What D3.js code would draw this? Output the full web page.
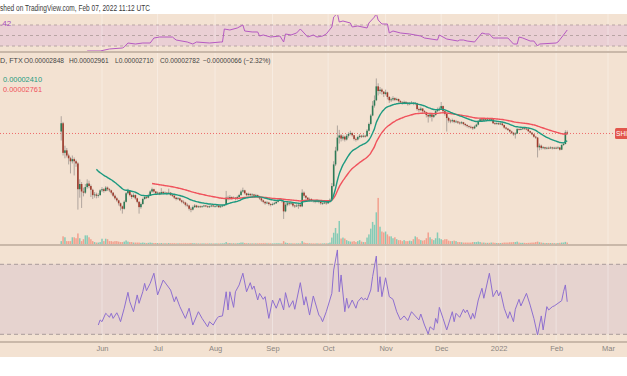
<!DOCTYPE html>
<html>
<head>
<meta charset="utf-8">
<title>SHIB/USD daily, FTX</title>
<script src="https://d3js.org/d3.v7.min.js"></script>
<style>
  body { margin: 0; background: #fff; }
  svg { display: block; font-family: "Liberation Sans", Arial, sans-serif; }
</style>
</head>
<body>
<svg id="chart" width="627" height="376"></svg>
<script>
// Daily candles from 10 May 2021, prices in millionths of a dollar (1 = 0.000001 USD)
const firstOpen = 29.0;
const closes = [
  34.5, 18.5, 19.5, 17.5, 16.5, 15.5, 16.2, 15.5, 14.8, 8.6,
  9.6, 8.2, 8.0, 9.0, 9.7, 9.2, 8.5, 7.6, 7.7, 7.5,
  7.6, 8.4, 8.6, 8.3, 8.9, 8.6, 8.4, 8.0, 7.5, 7.1,
  6.8, 6.4, 6.0, 5.7, 6.6, 7.9, 8.3, 7.6, 7.3, 7.6,
  7.1, 6.6, 5.9, 6.3, 7.0, 7.3, 7.2, 7.6, 8.2, 8.6,
  8.2, 7.9, 8.0, 7.8, 8.1, 7.9, 8.0, 7.8, 8.0, 7.6,
  7.5, 7.2, 7.0, 7.1, 6.8, 6.6, 6.5, 6.2, 6.1, 5.7,
  5.6, 5.9, 6.1, 5.9, 6.0, 5.9, 6.0, 6.1, 6.0, 5.9,
  6.0, 6.1, 6.0, 6.0, 6.1, 5.9, 6.0, 6.1, 6.2, 7.2,
  7.0, 7.3, 7.1, 7.2, 7.0, 7.3, 7.6, 8.2, 8.4, 7.9,
  7.6, 7.8, 7.6, 7.7, 7.5, 7.6, 7.4, 7.1, 6.8, 6.6,
  6.4, 6.5, 6.3, 6.2, 6.3, 6.4, 6.6, 6.8, 6.9, 6.7,
  5.4, 6.2, 6.4, 6.3, 6.4, 6.1, 6.0, 6.1, 6.2, 6.0,
  8.0, 7.5, 7.2, 6.9, 7.0, 6.8, 6.7, 6.6, 6.8, 6.6,
  6.4, 6.4, 6.5, 6.4, 6.6, 6.9, 9.2, 14.5, 19.4, 25.5,
  26.7, 25.0, 26.0, 24.5, 26.5, 27.5, 28.0, 26.8, 24.8, 24.5,
  25.8, 26.5, 26.0, 26.5, 26.2, 29.5, 34.0, 40.6, 50.0, 56.0,
  75, 68, 70, 67, 64, 66, 60, 56, 57, 58.5,
  56.5, 57.5, 55, 53.5, 52.5, 54, 53, 51.5, 52.5, 53,
  52, 52.5, 46.5, 45.5, 47, 44.5, 43.5, 41, 39.8, 41.5,
  39.5, 41, 44.5, 45.5, 47, 49.5, 44.5, 42, 38.5, 36.5,
  36, 36.8, 35.5, 35.8, 35, 34.5, 35.2, 34, 33.2, 32.5,
  32, 31.8, 31, 32.2, 33.5, 36.2, 37.5, 36.5, 37.5, 37.2,
  38, 37.3, 37.5, 34.5, 34, 34.5, 33.8, 34.3, 33.2, 31.5,
  30.8, 30, 29, 28.2, 27.3, 27.8, 30.5, 30.2, 30.5, 31,
  30.8, 30.4, 29.2, 28.3, 27.3, 26, 25.5, 20.8, 21.5, 20.5,
  20.8, 20.3, 20.6, 20.5, 20.7, 20.4, 20.6, 20.5, 20.7, 19.8,
  21.8, 22.3, 28.48, 27.82
];
const highs = [
  40, 35.5, 21.5, 20.5, 18.2, 17, 17.5, 16.8, 16, 15.2,
  10.6, 10, 8.9, 9.6, 10.6, 10.3, 9.5, 8.7, 8.1, 8.0,
  7.9, 8.6, 9.0, 8.8, 9.2, 9.1, 8.8, 8.5, 8.1, 7.7,
  7.3, 6.9, 6.5, 6.1, 6.8, 8.1, 8.7, 8.4, 7.8, 7.9,
  7.7, 7.2, 6.7, 6.5, 7.2, 7.6, 7.5, 7.8, 8.4, 8.9,
  8.7, 8.3, 8.2, 8.1, 8.8, 8.3, 8.2, 8.1, 8.7, 8.1,
  7.8, 7.6, 7.3, 7.3, 7.2, 6.9, 6.8, 6.6, 6.4, 6.2,
  5.9, 6.1, 6.3, 6.2, 6.1, 6.1, 6.1, 6.2, 6.2, 6.1,
  6.1, 6.2, 6.2, 6.1, 6.2, 6.2, 6.1, 6.2, 6.3, 8.3,
  7.5, 7.6, 7.4, 7.4, 7.3, 7.5, 7.8, 8.5, 8.9, 8.5,
  8.0, 8.0, 7.9, 7.9, 7.8, 7.8, 7.7, 7.5, 7.2, 6.9,
  6.7, 6.7, 6.6, 6.4, 6.5, 6.6, 6.8, 7.0, 7.1, 7.0,
  6.8, 6.4, 6.6, 6.5, 6.6, 6.5, 6.2, 6.3, 6.3, 6.3,
  8.6, 8.2, 7.6, 7.3, 7.2, 7.1, 6.9, 6.9, 7.0, 6.9,
  6.7, 6.6, 6.7, 6.6, 6.8, 7.1, 9.8, 15.5, 21, 32.9,
  30, 27.5, 27, 26.5, 27.5, 28.5, 29.5, 28.5, 27, 25.5,
  26.5, 27.5, 27, 27.3, 27, 30.5, 35, 42, 55, 62,
  88.6, 80, 74, 72, 68, 70, 67, 61, 59, 61,
  59.5, 59, 58, 56, 55, 55.5, 55, 54, 54, 55,
  54, 54, 53, 48, 49, 47.5, 45.5, 44, 42, 43,
  42, 42.5, 46, 48, 49, 54, 50, 45, 42.5, 39.5,
  37.5, 38, 37.2, 37, 36.3, 35.8, 36, 35.5, 34.5, 33.8,
  33, 32.8, 32.2, 33, 34.2, 37, 38.5, 38, 38.3, 38.2,
  38.8, 38.5, 38.2, 37.8, 35.2, 35.3, 35, 35, 34.6, 33.5,
  32, 31.2, 30.5, 29.5, 28.6, 28.5, 31.2, 31, 31.3, 31.8,
  31.6, 31.2, 30.7, 29.5, 28.6, 27.6, 26.4, 25.8, 22.5, 22,
  21.3, 21, 21, 21.1, 21.2, 21, 21, 21.1, 21.2, 20.9,
  22.2, 22.9, 29.8, 29.61
];
const lows = [
  24, 17.5, 16.5, 16.8, 14.5, 12, 14.8, 11.5, 13.8, 5.6,
  7.2, 5.8, 7.4, 7.8, 8.7, 8.8, 7.3, 7.0, 7.2, 7.1,
  7.2, 7.5, 8.1, 8.0, 8.2, 8.3, 8.1, 7.7, 7.3, 6.9,
  6.6, 6.1, 5.5, 5.15, 5.6, 6.5, 7.7, 7.4, 7.0, 7.2,
  6.9, 6.4, 5.15, 5.7, 6.2, 6.9, 7.0, 7.1, 7.5, 8.0,
  8.0, 7.7, 7.7, 7.6, 7.7, 7.7, 7.8, 7.6, 7.7, 7.5,
  7.3, 7.0, 6.8, 6.9, 6.7, 6.4, 6.3, 6.0, 5.9, 5.5,
  5.3, 5.5, 5.8, 5.8, 5.8, 5.8, 5.85, 5.9, 5.9, 5.8,
  5.8, 5.9, 5.9, 5.9, 5.9, 5.8, 5.8, 5.9, 6.0, 6.1,
  6.8, 6.9, 6.9, 7.0, 6.8, 6.9, 7.2, 7.5, 8.0, 7.7,
  7.4, 7.5, 7.4, 7.5, 7.3, 7.4, 7.2, 6.9, 6.6, 6.4,
  6.2, 6.3, 6.1, 6.0, 6.1, 6.2, 6.3, 6.5, 6.7, 6.5,
  4.6, 5.3, 6.0, 6.1, 6.2, 5.9, 5.8, 5.9, 5.7, 5.9,
  5.9, 7.2, 7.0, 6.7, 6.8, 6.6, 6.5, 6.4, 6.5, 6.4,
  6.2, 6.2, 6.3, 6.2, 6.3, 6.5, 6.8, 9.0, 14, 19,
  22.5, 23.5, 24, 23.5, 24, 25.5, 26.8, 26, 24, 23.5,
  24, 25, 25.3, 25.5, 25.5, 26, 29, 33, 40, 48,
  55, 62, 64, 63, 60, 62, 57, 53, 54, 55,
  55, 55.5, 53.5, 52, 51, 51.5, 51.5, 50, 50.5, 51.5,
  50.5, 50.5, 45, 43.5, 44.5, 43, 42, 39, 35, 38.5,
  35.8, 38.5, 40.5, 43.5, 44.5, 46, 43.5, 40.5, 29, 35,
  34.5, 35, 34.5, 34.8, 34, 33.5, 33.8, 33, 32.3, 31.5,
  31, 30.8, 30, 30.5, 31.8, 33, 35.8, 35.5, 36, 36.3,
  36.8, 36.5, 36.6, 34, 33.3, 33.5, 33.2, 33.3, 32.5, 30.8,
  30, 29.3, 28.3, 27.5, 26.5, 25, 27.5, 29.6, 29.8, 30,
  30.2, 29.8, 28.7, 27.8, 26.8, 25.5, 24.8, 16.8, 19.5, 19.8,
  20, 19.8, 19.9, 20, 20.1, 19.9, 20, 20, 20.1, 19.4,
  19.6, 21.5, 22.1, 27.10
];
// volume, trillions of SHIB
const volumes = [
  3, 8, 7, 3, 3, 3, 7, 7, 6, 11,
  6, 3, 5, 9, 9, 7, 5, 3, 2, 1.5,
  1.5, 2, 5.5, 3, 5.5, 5, 3, 3, 2.5, 3,
  3, 2.5, 2, 2, 2.5, 3.7, 2.5, 2, 2, 1.5,
  1.5, 1.5, 1.5, 1.2, 1.5, 1.2, 1, 1.2, 1.5, 1.2,
  1, 1, 1, 0.8, 1, 0.8, 0.8, 0.8, 1, 0.8,
  0.8, 0.8, 0.7, 0.7, 0.8, 0.7, 0.7, 0.8, 0.7, 0.8,
  1, 0.8, 0.7, 0.7, 0.6, 0.6, 0.6, 0.6, 0.6, 0.6,
  0.6, 0.6, 0.6, 0.6, 0.6, 0.6, 0.6, 0.7, 0.8, 2,
  1, 1, 0.8, 0.8, 0.7, 0.8, 1, 1.5, 1.5, 1,
  0.8, 0.8, 0.7, 0.7, 0.7, 0.7, 0.7, 0.8, 0.8, 0.8,
  0.8, 0.7, 0.7, 0.7, 0.6, 0.6, 0.7, 0.8, 0.7, 0.7,
  3, 1.5, 1, 0.8, 0.7, 0.7, 0.6, 0.6, 0.7, 0.7,
  3, 1.5, 1, 0.8, 0.7, 0.7, 0.6, 0.6, 0.7, 0.6,
  0.6, 0.6, 0.7, 0.7, 0.8, 1.5, 6.7, 11.7, 16.7, 11,
  24, 5.7, 6.7, 5.7, 4, 3, 2.5, 2.5, 3, 2,
  3, 4, 2.5, 2, 2, 6.7, 10, 16, 23, 20,
  33, 48, 18, 13, 12, 13, 10, 8, 8, 6,
  7, 5, 4, 4, 3, 4, 3, 3, 3.5, 3,
  5, 8, 7, 5, 4, 3.5, 4, 6, 12, 7,
  5, 4, 6, 12, 6, 5, 4, 5, 5, 3.5,
  3, 3, 3.5, 3, 2, 2, 1.8, 1.5, 1.5, 1.5,
  1.5, 1.5, 2, 2, 2, 2.5, 2, 1.5, 1.5, 1.2,
  1.2, 1.2, 1.5, 1.5, 1.2, 1, 1, 1, 1.2, 1.5,
  1.5, 1.5, 1.8, 1.8, 2, 2, 2.5, 1.5, 1.2, 1.2,
  1.2, 1, 1.2, 1.3, 1.5, 1.5, 2, 2.5, 1.8, 1.5,
  1.2, 1, 1, 1, 1, 1, 0.8, 0.8, 1, 1.2,
  1.5, 1.5, 2.2, 1.5
];

// lower pane oscillator (bar index, value)
const oscIdx = [
  20, 21, 22, 24, 25, 26, 27, 28, 30, 31, 32, 34, 36, 37, 39, 41, 42, 44, 45, 46,
  48, 50, 52, 55, 57, 59, 61, 62, 64, 67, 69, 71, 74, 76, 79, 80, 82, 84, 85, 87,
  89, 90, 91, 93, 94, 96, 98, 100, 102, 103, 104, 106, 107, 109, 110, 112, 114, 116, 118, 120,
  121, 123, 125, 126, 129, 131, 132, 134, 136, 139, 140,
  141, 143, 146, 147, 149, 150, 151, 153, 154, 155, 157, 159, 160, 162, 163, 164, 165, 167, 168, 170,
  171, 172, 173, 175, 177, 179, 181, 183, 185, 187, 189, 191, 193, 194, 196, 198, 199, 201, 202, 203,
  204, 206, 208, 209, 211, 212, 213, 215, 217, 218, 219, 221, 222, 223, 225, 227, 228, 231, 233, 235,
  236, 237, 239, 241, 242, 244, 245, 247, 248, 251, 253, 255, 257, 259, 260, 262, 263, 265, 266, 268,
  270, 271, 272, 273
];
const oscVal = [
  35.3, 38.2, 37.2, 42.0, 41.0, 39.7, 42.0, 39.1, 42.3, 40.1, 37.2, 44.9, 54.0, 48.6, 42.9, 52.5, 47.7, 54.3, 59.1, 54.9,
  59.1, 64.9, 52.5, 61.0, 58.2, 55.3, 48.6, 51.5, 45.8, 39.1, 44.9, 35.3, 42.9, 39.1, 34.3, 37.2, 35.3, 39.1, 40.1, 40.5,
  54.3, 43.9, 54.3, 45.4, 54.3, 58.2, 64.9, 54.3, 59.5, 55.7, 57.6, 49.6, 53.4, 50.0, 51.5, 39.1, 49.6, 44.9, 50.6, 43.9,
  53.8, 45.4, 49.2, 44.3, 59.5, 46.7, 51.5, 41.0, 51.9, 41.0, 39.7,
  37.2, 42.9, 53.4, 66.7, 78.2, 54.3, 63.9, 42.9, 50.6, 44.9, 49.6, 44.9, 48.6, 51.1, 49.6, 50.6, 49.6, 55.3, 62.9, 74.7,
  54.3, 62.9, 51.5, 62.3, 51.5, 50.0, 42.9, 38.2, 40.5, 37.8, 42.9, 40.5, 38.2, 41.6, 35.3, 30.2, 34.3, 32.5, 39.1, 36.3,
  45.4, 39.1, 32.5, 35.9, 42.9, 37.2, 42.0, 39.7, 44.3, 42.3, 43.9, 38.6, 42.0, 39.1, 49.6, 56.3, 50.6, 64.9, 51.5, 55.3,
  51.9, 54.3, 44.9, 39.1, 42.9, 37.2, 44.3, 50.0, 46.2, 53.4, 46.7, 39.1, 29.6, 40.5, 32.5, 45.8, 43.9, 45.8, 46.2, 47.7,
  49.2, 54.3, 58.2, 48.6
];

// cropped upper pane indicator (bar index, value)
const topIdx = [
  14, 21, 26, 33, 34, 36, 40, 44, 48, 50, 53, 60, 62, 68, 71, 73, 80, 86, 87, 88,
  91, 95, 98, 99, 103, 106, 107, 109, 113, 118, 120, 121, 124, 127, 129, 131, 133, 136, 138, 141,
  143, 146, 147, 149, 150, 152, 156, 157, 160, 165, 166, 169, 170, 171, 173, 176, 177, 179, 183, 188,
  191, 194, 196, 203, 204, 208, 214, 215, 217, 219, 223, 227, 229, 231, 233, 241, 244, 246, 247, 249,
  253, 255, 257, 258, 267, 268, 271, 273
];
const topVal = [
  20.5, 20.5, 24.3, 26.2, 28.1, 35.7, 33.8, 35.7, 35.7, 45.2, 47.1, 47.1, 41.4, 37.6, 33.8, 37.6, 35.7, 37.6, 37.6, 62.4,
  60.5, 64.3, 70.0, 58.6, 56.7, 56.7, 49.0, 51.0, 47.1, 49.0, 37.6, 52.9, 51.0, 54.8, 62.4, 54.8, 47.1, 51.0, 47.1, 49.0,
  52.9, 66.2, 85.2, 92, 75.7, 77.6, 73.8, 66.2, 68.1, 64.3, 73.8, 85.2, 92, 79.5, 71.9, 71.9, 54.8, 58.6, 54.8, 52.9,
  51.0, 49.0, 45.2, 41.4, 51.0, 43.3, 39.5, 41.4, 41.4, 39.5, 37.6, 54.8, 52.9, 52.9, 45.2, 45.2, 33.8, 33.8, 47.1, 45.2,
  39.5, 39.5, 30.0, 33.8, 35.7, 37.6, 51.0, 60.5
];

const monthNames = ["Jun", "Jul", "Aug", "Sep", "Oct", "Nov", "Dec", "2022", "Feb", "Mar"];

// ---------------------------------------------------------------
const startDay = Date.UTC(2021, 4, 10);
const day = i => new Date(startDay + i * 864e5);
const candles = closes.map((c, i) => ({
  date: day(i),
  open: i === 0 ? firstOpen : closes[i - 1],
  high: highs[i], low: lows[i], close: c, vol: volumes[i]
}));

// EMA the way TradingView seeds it (SMA of the first len bars)
function ema(values, len) {
  const k = 2 / (len + 1), out = [];
  let prev = null;
  values.forEach((v, i) => {
    if (i < len - 1) { out.push(null); return; }
    if (prev === null) prev = d3.mean(values.slice(0, len));
    else prev = v * k + prev * (1 - k);
    out.push(prev);
  });
  return out;
}
const ema20 = ema(closes, 20);
const ema50 = ema(closes, 50);

const svg = d3.select("#chart");
const bg = "#f3e2d2";

const x = d3.scaleUtc()
  .domain([new Date(Date.UTC(2021, 5, 1)), new Date(Date.UTC(2022, 2, 1))])
  .range([102, 608]);
const y = d3.scaleLog().domain([5, 100]).range([215, 72.7]);
const yVol = d3.scaleLinear().domain([0, 50]).range([244, 196]);
const yOsc = d3.scaleLinear().domain([30, 70]).range([334.3, 264.3]);
const yTop = d3.scaleLinear().domain([30, 70]).range([46, 25]);

// backgrounds
svg.append("rect").attr("x", 0).attr("y", 14).attr("width", 627).attr("height", 343).attr("fill", bg);
svg.append("rect").attr("x", 0).attr("y", yTop(70)).attr("width", 627)
  .attr("height", yTop(30) - yTop(70)).attr("fill", "#eacfd4");
svg.append("rect").attr("x", 0).attr("y", yOsc(70)).attr("width", 627)
  .attr("height", yOsc(30) - yOsc(70)).attr("fill", "#e6d3cf");

// month grid
const months = x.ticks(d3.utcMonth.every(1));
svg.append("g").selectAll("line").data(months).join("line")
  .attr("x1", d => x(d)).attr("x2", d => x(d))
  .attr("y1", 14).attr("y2", 342)
  .attr("stroke", "#fff").attr("stroke-opacity", 0.35);

// dashed level lines
svg.append("g").selectAll("line").data([30, 50, 70]).join("line")
  .attr("x1", 0).attr("x2", 627)
  .attr("y1", d => yTop(d)).attr("y2", d => yTop(d))
  .attr("stroke", "#b8a4a4").attr("stroke-dasharray", "3,3");
svg.append("g").selectAll("line").data([30, 70]).join("line")
  .attr("x1", 0).attr("x2", 627)
  .attr("y1", d => yOsc(d)).attr("y2", d => yOsc(d))
  .attr("stroke", "#a99c9a").attr("stroke-dasharray", "4,3");

// clip regions
const defs = svg.append("defs");
defs.append("clipPath").attr("id", "clipTop").append("rect")
  .attr("x", 0).attr("y", 15).attr("width", 627).attr("height", 36);
defs.append("clipPath").attr("id", "clipMain").append("rect")
  .attr("x", 0).attr("y", 53).attr("width", 627).attr("height", 191);

// upper pane line
svg.append("path")
  .datum(topIdx.map((d, i) => [d, topVal[i]]))
  .attr("clip-path", "url(#clipTop)")
  .attr("fill", "none").attr("stroke", "#b65ac2").attr("stroke-width", 1)
  .attr("d", d3.line().x(d => x(day(d[0]))).y(d => yTop(d[1])));

// main pane
const main = svg.append("g").attr("clip-path", "url(#clipMain)");

// volume
main.append("g").selectAll("rect").data(candles).join("rect")
  .attr("x", d => x(d.date) - 0.75).attr("width", 1.5)
  .attr("y", d => yVol(d.vol)).attr("height", d => yVol(0) - yVol(d.vol))
  .attr("fill", d => d.close >= d.open ? "#86cbb6" : "#f2a08e");

// last price dotted line
const last = candles[candles.length - 1];
main.append("line").attr("x1", 0).attr("x2", 627)
  .attr("y1", y(last.close)).attr("y2", y(last.close))
  .attr("stroke", "#ee6a6a").attr("stroke-dasharray", "1,2");

// wicks
main.append("g").selectAll("line").data(candles).join("line")
  .attr("x1", d => x(d.date)).attr("x2", d => x(d.date))
  .attr("y1", d => y(d.high)).attr("y2", d => y(d.low))
  .attr("stroke", "#9e9690").attr("stroke-width", 0.8);

// bodies
main.append("g").selectAll("rect").data(candles).join("rect")
  .attr("x", d => x(d.date) - 0.8).attr("width", 1.6)
  .attr("y", d => y(Math.max(d.open, d.close)))
  .attr("height", d => Math.max(0.8, Math.abs(y(d.open) - y(d.close))))
  .attr("fill", d => d.close >= d.open ? "#2d7a55" : "#9e3a2b");

// moving averages
const maLine = d3.line().defined(d => d[1] !== null)
  .x(d => x(d[0])).y(d => y(d[1])).curve(d3.curveMonotoneX);
main.append("path").datum(candles.map((c, i) => [c.date, ema50[i]]))
  .attr("fill", "none").attr("stroke", "#f0525c").attr("stroke-width", 1.4).attr("d", maLine);
main.append("path").datum(candles.map((c, i) => [c.date, ema20[i]]))
  .attr("fill", "none").attr("stroke", "#1e9a80").attr("stroke-width", 1.4).attr("d", maLine);

// lower pane oscillator
svg.append("path")
  .datum(oscIdx.map((d, i) => [d, oscVal[i]]))
  .attr("fill", "none").attr("stroke", "#8e6fcf").attr("stroke-width", 1)
  .attr("d", d3.line().x(d => x(day(d[0]))).y(d => yOsc(d[1])));

// pane separators
svg.append("g").selectAll("line").data([52, 245, 342]).join("line")
  .attr("x1", 0).attr("x2", 627).attr("y1", d => d).attr("y2", d => d)
  .attr("stroke", "#c9b8a9").attr("stroke-width", 2);

// time axis
svg.append("g")
  .attr("transform", "translate(0,343)")
  .call(d3.axisBottom(x).ticks(d3.utcMonth.every(1)).tickSize(0)
    .tickFormat((d, i) => monthNames[i]))
  .call(g => g.select(".domain").remove())
  .call(g => g.selectAll("text").attr("fill", "#8a8580")
    .style("font-size", "7.5px").style("font-family", "Liberation Sans, Arial, sans-serif"));

// texts
const txt = (s, x0, y0, col, size, len) => {
  const t = svg.append("text").attr("x", x0).attr("y", y0).attr("fill", col)
    .style("font-size", size + "px").text(s);
  if (len) t.attr("textLength", len).attr("lengthAdjust", "spacingAndGlyphs");
  return t;
};
txt("shed on TradingView.com, Feb 07, 2022 11:12 UTC", 0, 11, "#3a3a3a", 8.5, 150);
txt(".42", 0, 26, "#a64cbd", 8);
txt("D, FTX", 0, 63, "#444", 7.2);
txt("O0.00002848", 24, 63, "#444", 6.6);
txt("H0.00002961", 69, 63, "#444", 6.6);
txt("L0.00002710", 115, 63, "#444", 6.6);
txt("C0.00002782", 160, 63, "#444", 6.6);
txt("\u22120.00000066 (\u22122.32%)", 203, 63, "#444", 6.6);
txt("0.00002410", 3, 82, "#1e9a80", 7.4);
txt("0.00002761", 3, 92, "#f0525c", 7.4);

// last price label on the right edge (cut by the frame as in the screenshot)
svg.append("rect").attr("x", 615).attr("y", y(last.close) - 5.5)
  .attr("width", 20).attr("height", 11).attr("rx", 1.5).attr("fill", "#e2564c");
txt("SHI", 616, y(last.close) + 3, "#fff", 7.5, 11);
</script>
</body>
</html>
